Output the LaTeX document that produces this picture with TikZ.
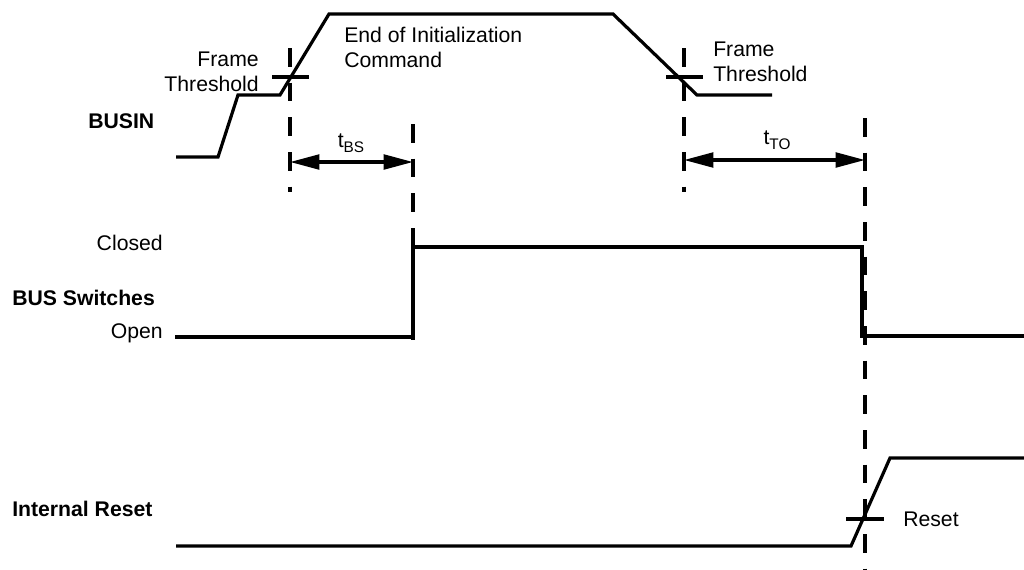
\documentclass[tikz,border=0pt]{standalone}
\usepackage{fontspec}
\setmainfont{Liberation Sans}
\usepackage{tikz}
\usetikzlibrary{arrows.meta}

\newcommand{\tsub}[1]{t\raisebox{-0.45ex}{\fontsize{11.5}{12}\selectfont #1}}

\begin{document}
\begin{tikzpicture}[line cap=butt,line join=miter,x=0.75pt,y=-0.75pt,
  sig/.style={line width=2.4pt},
  guide/.style={line width=2.4pt,dash pattern=on 14pt off 12pt},
  txt/.style={font=\fontsize{15.9}{18.8}\selectfont,inner sep=0pt},
  hdr/.style={txt,font=\fontsize{15.9}{18.8}\selectfont\bfseries},
  span/.style={line width=2.4pt,{Triangle[length=22pt,width=11pt]}-{Triangle[length=22pt,width=11pt]}}]
\useasboundingbox (0,0) rectangle (1024,569);
% signal names
\node[hdr,anchor=west] (busin) at (88,121) {BUSIN};
\node[hdr,anchor=west] (bussw) at (12,298) {BUS Switches};
\node[hdr,anchor=west] (intrst) at (12,509) {Internal Reset};
\node[txt,anchor=east] (closed) at (163,243) {Closed};
\node[txt,anchor=east] (open) at (163,333) {Open};
% BUSIN
\draw[sig] (176,157) -- (218,157) -- (238,95) -- (280,95) -- (329,14) -- (613,14) -- (697,95) -- (772,95);
\draw[sig] (272,77) -- (309,77);
\draw[sig] (666,77) -- (703,77);
\node[txt,anchor=east,align=right] (thrl) at (259,72) {Frame\\Threshold};
\node[txt,anchor=west,align=left] (endinit) at (344,47) {End of Initialization\\Command};
\node[txt,anchor=west,align=left] (thrr) at (713,62) {Frame\\Threshold};
% guides
\coordinate (g1a) at (290,48);  \coordinate (g1b) at (290,192);
\coordinate (g2a) at (413,124); \coordinate (g2b) at (413,340);
\coordinate (g3a) at (684,48);  \coordinate (g3b) at (684,192);
\coordinate (g4a) at (865,118); \coordinate (g4b) at (865,569);
\draw[guide] (g1a) -- (g1b);
\draw[guide] (g2a) -- (g2b);
\draw[guide] (g3a) -- (g3b);
\draw[guide] (g4a) -- (g4b);
% timings
\coordinate (bs1) at (290,162); \coordinate (bs2) at (413,162);
\coordinate (to1) at (684,160); \coordinate (to2) at (865,160);
\draw[span] (bs1) -- (bs2);
\draw[span] (to1) -- (to2);
\node[txt] (tbs) at (351,143) {\tsub{BS}};
\node[txt] (tto) at (777,140) {\tsub{TO}};
% BUS switches
\draw[sig] (175,337) -- (413,337) -- (413,247) -- (862,247) -- (862,336) -- (1024,336);
% internal reset
\draw[sig] (176,546) -- (851,546) -- (890,458) -- (1024,458);
\draw[sig] (846,519) -- (884,519);
\node[txt,anchor=west] (rst) at (903,519) {Reset};
\end{tikzpicture}
\end{document}
